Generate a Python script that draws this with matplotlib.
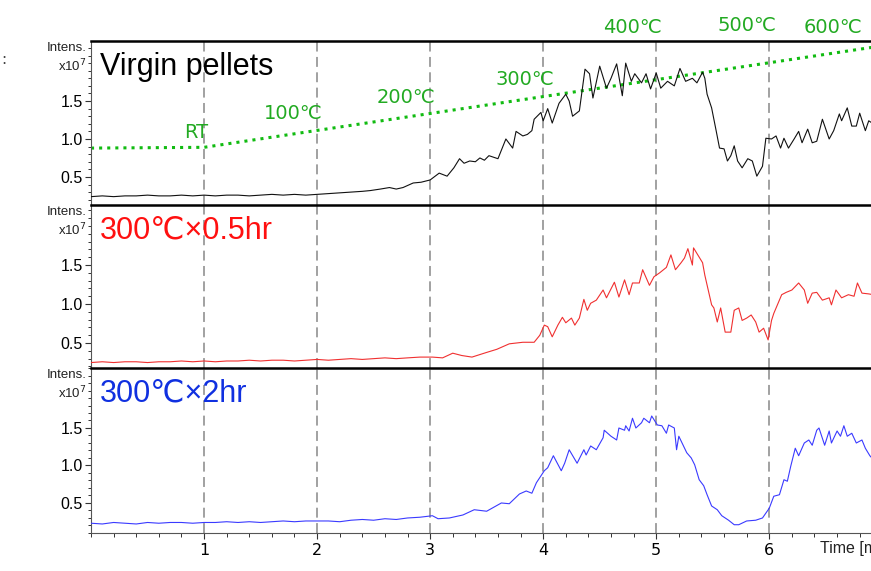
import matplotlib
matplotlib.use("Agg")
import matplotlib.pyplot as plt
from matplotlib.ticker import MultipleLocator, FixedLocator
import matplotlib.transforms as mtransforms

# chromatogram traces, time in min, intensity in x10^7
t_virgin = [0.0, 0.1, 0.2, 0.3, 0.4, 0.5, 0.6, 0.7, 0.8, 0.9, 1.0, 1.1, 1.2, 1.3, 1.4, 1.5, 1.6, 1.7, 1.8, 1.9,
            2.0, 2.1, 2.2, 2.3, 2.4, 2.47, 2.56, 2.64, 2.70, 2.76, 2.85, 2.92, 3.0, 3.08, 3.15, 3.21, 3.26, 3.30,
            3.35, 3.40, 3.44, 3.48, 3.52, 3.56, 3.60, 3.67, 3.73, 3.76, 3.82, 3.86, 3.90, 3.92, 3.98, 4.0, 4.04,
            4.08, 4.14, 4.20, 4.23, 4.26, 4.32, 4.37, 4.41, 4.44, 4.50, 4.56, 4.60, 4.65, 4.70, 4.73, 4.78, 4.81,
            4.87, 4.91, 4.95, 5.0, 5.04, 5.10, 5.16, 5.21, 5.26, 5.32, 5.36, 5.41, 5.43, 5.45, 5.49, 5.53, 5.56,
            5.60, 5.63, 5.66, 5.69, 5.72, 5.76, 5.81, 5.85, 5.89, 5.94, 5.97, 6.02, 6.06, 6.10, 6.13, 6.17, 6.22,
            6.26, 6.29, 6.34, 6.38, 6.42, 6.47, 6.53, 6.57, 6.62, 6.64, 6.69, 6.73, 6.77, 6.80, 6.85, 6.88, 6.92]
i_virgin = [0.24, 0.25, 0.24, 0.25, 0.25, 0.26, 0.25, 0.25, 0.26, 0.25, 0.26, 0.25, 0.26, 0.26, 0.25, 0.26, 0.27,
            0.26, 0.27, 0.26, 0.27, 0.28, 0.29, 0.30, 0.31, 0.32, 0.34, 0.36, 0.34, 0.36, 0.42, 0.43, 0.46, 0.55,
            0.51, 0.62, 0.74, 0.68, 0.71, 0.70, 0.75, 0.72, 0.78, 0.76, 0.74, 1.00, 0.88, 1.10, 1.04, 1.06, 1.11,
            1.26, 1.35, 1.24, 1.40, 1.21, 1.47, 1.59, 1.50, 1.30, 1.37, 1.92, 1.86, 1.54, 1.96, 1.67, 1.80, 1.99,
            1.57, 2.00, 1.76, 1.86, 1.74, 1.86, 1.66, 1.87, 1.67, 1.76, 1.70, 1.93, 1.76, 1.80, 1.74, 1.88, 1.80,
            1.59, 1.41, 1.11, 0.88, 0.87, 0.71, 0.78, 0.91, 0.71, 0.62, 0.74, 0.71, 0.51, 0.64, 1.01, 1.00, 1.04,
            0.88, 1.01, 0.88, 1.00, 1.10, 0.95, 1.13, 0.95, 0.97, 1.26, 1.00, 1.11, 1.33, 1.24, 1.41, 1.17, 1.17,
            1.34, 1.11, 1.24, 1.20]

t_05hr = [0.0, 0.1, 0.2, 0.3, 0.4, 0.5, 0.6, 0.7, 0.8, 0.9, 1.0, 1.1, 1.2, 1.3, 1.4, 1.5, 1.6, 1.7, 1.8, 1.9,
          2.0, 2.1, 2.2, 2.3, 2.4, 2.5, 2.6, 2.7, 2.8, 2.91, 3.02, 3.11, 3.20, 3.28, 3.37, 3.50, 3.59, 3.70,
          3.82, 3.92, 3.97, 4.01, 4.04, 4.08, 4.13, 4.17, 4.20, 4.25, 4.28, 4.32, 4.36, 4.39, 4.42, 4.47, 4.53,
          4.56, 4.63, 4.67, 4.72, 4.76, 4.79, 4.85, 4.88, 4.94, 4.98, 5.03, 5.09, 5.13, 5.17, 5.22, 5.25, 5.28,
          5.32, 5.33, 5.41, 5.43, 5.49, 5.51, 5.54, 5.57, 5.61, 5.66, 5.69, 5.73, 5.76, 5.80, 5.84, 5.88, 5.91,
          5.95, 5.99, 6.02, 6.04, 6.11, 6.15, 6.20, 6.26, 6.31, 6.34, 6.38, 6.42, 6.47, 6.53, 6.55, 6.59, 6.64,
          6.70, 6.75, 6.78, 6.82, 6.88, 6.92]
i_05hr = [0.25, 0.26, 0.25, 0.26, 0.26, 0.25, 0.26, 0.26, 0.27, 0.26, 0.27, 0.26, 0.27, 0.27, 0.28, 0.27, 0.28,
          0.28, 0.27, 0.28, 0.29, 0.28, 0.29, 0.30, 0.29, 0.30, 0.31, 0.30, 0.31, 0.32, 0.32, 0.31, 0.37, 0.34,
          0.32, 0.38, 0.42, 0.49, 0.51, 0.51, 0.60, 0.73, 0.71, 0.58, 0.73, 0.83, 0.76, 0.82, 0.73, 0.82, 1.06,
          0.92, 1.01, 1.05, 1.18, 1.08, 1.28, 1.09, 1.31, 1.12, 1.27, 1.27, 1.44, 1.24, 1.35, 1.40, 1.47, 1.63,
          1.44, 1.53, 1.59, 1.71, 1.50, 1.72, 1.53, 1.37, 0.99, 0.95, 0.77, 0.95, 0.64, 0.64, 0.92, 0.95, 0.79,
          0.82, 0.86, 0.77, 0.64, 0.69, 0.54, 0.79, 0.88, 1.12, 1.15, 1.18, 1.27, 1.18, 1.01, 1.14, 1.15, 1.05,
          1.08, 0.99, 1.18, 1.08, 1.12, 1.10, 1.27, 1.14, 1.13, 1.12]

t_2hr = [0.0, 0.1, 0.2, 0.3, 0.4, 0.5, 0.6, 0.7, 0.8, 0.9, 1.0, 1.1, 1.2, 1.3, 1.4, 1.5, 1.6, 1.7, 1.8, 1.9,
         2.0, 2.1, 2.2, 2.3, 2.4, 2.5, 2.6, 2.7, 2.8, 2.91, 3.02, 3.07, 3.17, 3.29, 3.39, 3.50, 3.63, 3.70,
         3.79, 3.85, 3.90, 3.94, 4.01, 4.04, 4.09, 4.16, 4.19, 4.23, 4.30, 4.36, 4.38, 4.42, 4.47, 4.53, 4.54,
         4.60, 4.65, 4.67, 4.72, 4.73, 4.76, 4.79, 4.82, 4.87, 4.89, 4.94, 4.96, 5.01, 5.05, 5.09, 5.11, 5.16,
         5.18, 5.20, 5.27, 5.31, 5.34, 5.38, 5.42, 5.45, 5.49, 5.54, 5.58, 5.64, 5.69, 5.73, 5.80, 5.88, 5.94,
         6.0, 6.04, 6.09, 6.13, 6.16, 6.19, 6.23, 6.26, 6.31, 6.35, 6.38, 6.42, 6.44, 6.49, 6.53, 6.55, 6.60,
         6.63, 6.66, 6.69, 6.73, 6.77, 6.82, 6.85, 6.89, 6.92]
i_2hr = [0.23, 0.22, 0.24, 0.23, 0.22, 0.24, 0.23, 0.24, 0.24, 0.23, 0.24, 0.24, 0.25, 0.24, 0.25, 0.24, 0.25,
         0.26, 0.25, 0.26, 0.26, 0.26, 0.25, 0.27, 0.28, 0.27, 0.29, 0.28, 0.30, 0.31, 0.33, 0.29, 0.30, 0.34,
         0.41, 0.39, 0.50, 0.49, 0.62, 0.66, 0.63, 0.77, 0.93, 0.97, 1.13, 0.93, 1.03, 1.21, 1.03, 1.21, 1.14,
         1.26, 1.21, 1.37, 1.47, 1.39, 1.34, 1.50, 1.47, 1.53, 1.46, 1.63, 1.50, 1.57, 1.63, 1.57, 1.66, 1.54,
         1.53, 1.43, 1.54, 1.50, 1.21, 1.39, 1.17, 1.10, 1.01, 0.81, 0.73, 0.61, 0.46, 0.41, 0.33, 0.27, 0.21,
         0.21, 0.26, 0.27, 0.30, 0.43, 0.59, 0.61, 0.81, 0.79, 0.99, 1.23, 1.13, 1.30, 1.34, 1.27, 1.47, 1.50,
         1.27, 1.46, 1.30, 1.46, 1.39, 1.53, 1.39, 1.43, 1.30, 1.34, 1.23, 1.13, 1.08]

# oven program (dotted green line) and its labels
t_oven = [0.0, 1.0, 6.92]
i_oven = [0.88, 0.89, 2.21]
oven_labels = ["RT", "100℃", "200℃", "300℃", "400℃", "500℃", "600℃"]
oven_label_t = [0.93, 1.79, 2.79, 3.84, 4.79, 5.80, 6.56]
oven_label_i = [1.09, 1.34, 1.55, 1.78, 2.47, 2.50, 2.47]

titles = ["Virgin pellets", "300℃×0.5hr", "300℃×2hr"]
title_colors = ["black", "#ff1010", "#1030e0"]
line_colors = ["#111111", "#f03030", "#3a3aff"]
ylims = [(0.13, 2.29), (0.18, 2.27), (0.10, 2.30)]
boxes = [[0.1045, 0.641, 0.8955, 0.287],
         [0.1045, 0.3555, 0.8955, 0.2855],
         [0.1045, 0.0666, 0.8955, 0.2889]]
traces = [(t_virgin, i_virgin), (t_05hr, i_05hr), (t_2hr, i_2hr)]

sans = ["Liberation Sans", "DejaVu Sans"]

fig = plt.figure(figsize=(8.71, 5.71), dpi=100)
ax = []
for k in range(3):
    a = fig.add_axes(boxes[k])
    a.set_xlim(0, 6.9)
    a.set_ylim(*ylims[k])
    for m in range(1, 7):
        a.axvline(m, color="#9a9a9a", ls=(0, (5.5, 3)), lw=1.3, zorder=1)
    a.plot(traces[k][0], traces[k][1], color=line_colors[k], lw=0.8, zorder=3)

    a.spines["right"].set_visible(False)
    a.spines["top"].set_linewidth(1.8)
    a.spines["top"].set_color("black")
    a.spines["left"].set_linewidth(0.8)
    a.spines["left"].set_color("#555555")
    a.spines["bottom"].set_visible(k == 2)
    a.spines["bottom"].set_linewidth(0.8)
    a.spines["bottom"].set_color("#555555")

    a.yaxis.set_major_locator(FixedLocator([0.5, 1.0, 1.5]))
    a.yaxis.set_minor_locator(MultipleLocator(0.1))
    a.tick_params(axis="y", which="major", length=4, width=0.8, color="#333333",
                  labelsize=11.5, pad=2)
    a.tick_params(axis="y", which="minor", length=2.5, width=0.7, color="#333333")
    a.set_yticklabels(["0.5", "1.0", "1.5"], family=sans)

    a.text(-0.006, 0.995, "Intens.", transform=a.transAxes, ha="right", va="top",
           fontsize=9.5, family=sans, color="#222222")
    a.text(-0.006, 0.90, "x10$^7$", transform=a.transAxes, ha="right", va="top",
           fontsize=9.5, family=sans, color="#222222")
    a.text(0.011, 0.935, titles[k], transform=a.transAxes, ha="left", va="top",
           fontsize=22, color=title_colors[k], family=sans)
    ax.append(a)

# x axis only on the bottom panel
for a in ax[:2]:
    a.tick_params(axis="x", which="both", bottom=False, labelbottom=False)
ax[2].xaxis.set_major_locator(FixedLocator([1, 2, 3, 4, 5, 6]))
ax[2].xaxis.set_minor_locator(MultipleLocator(0.2))
ax[2].tick_params(axis="x", which="major", length=4, width=0.8, color="#333333",
                  labelsize=11.5, pad=3)
ax[2].tick_params(axis="x", which="minor", length=3, width=0.7, color="#333333")
trans = mtransforms.blended_transform_factory(ax[2].transData, ax[2].transAxes)
ax[2].text(6.45, -0.095, "Time [min]", transform=trans, ha="left", va="center",
           fontsize=11.5, family=sans, color="#222222")

# temperature program on the top panel
ax[0].plot(t_oven, i_oven, color="#11bb11", ls=":", lw=2.2, zorder=2)
for lab, tx, ty in zip(oven_labels, oven_label_t, oven_label_i):
    ax[0].text(tx, ty, lab, ha="center", va="center", fontsize=14, color="#22aa22",
               family=["DejaVu Sans"], clip_on=False, zorder=4)

fig.text(0.001, 1 - 60 / 571, ":", fontsize=11, color="#444444", va="center")

fig.savefig("out.png", dpi=100)
